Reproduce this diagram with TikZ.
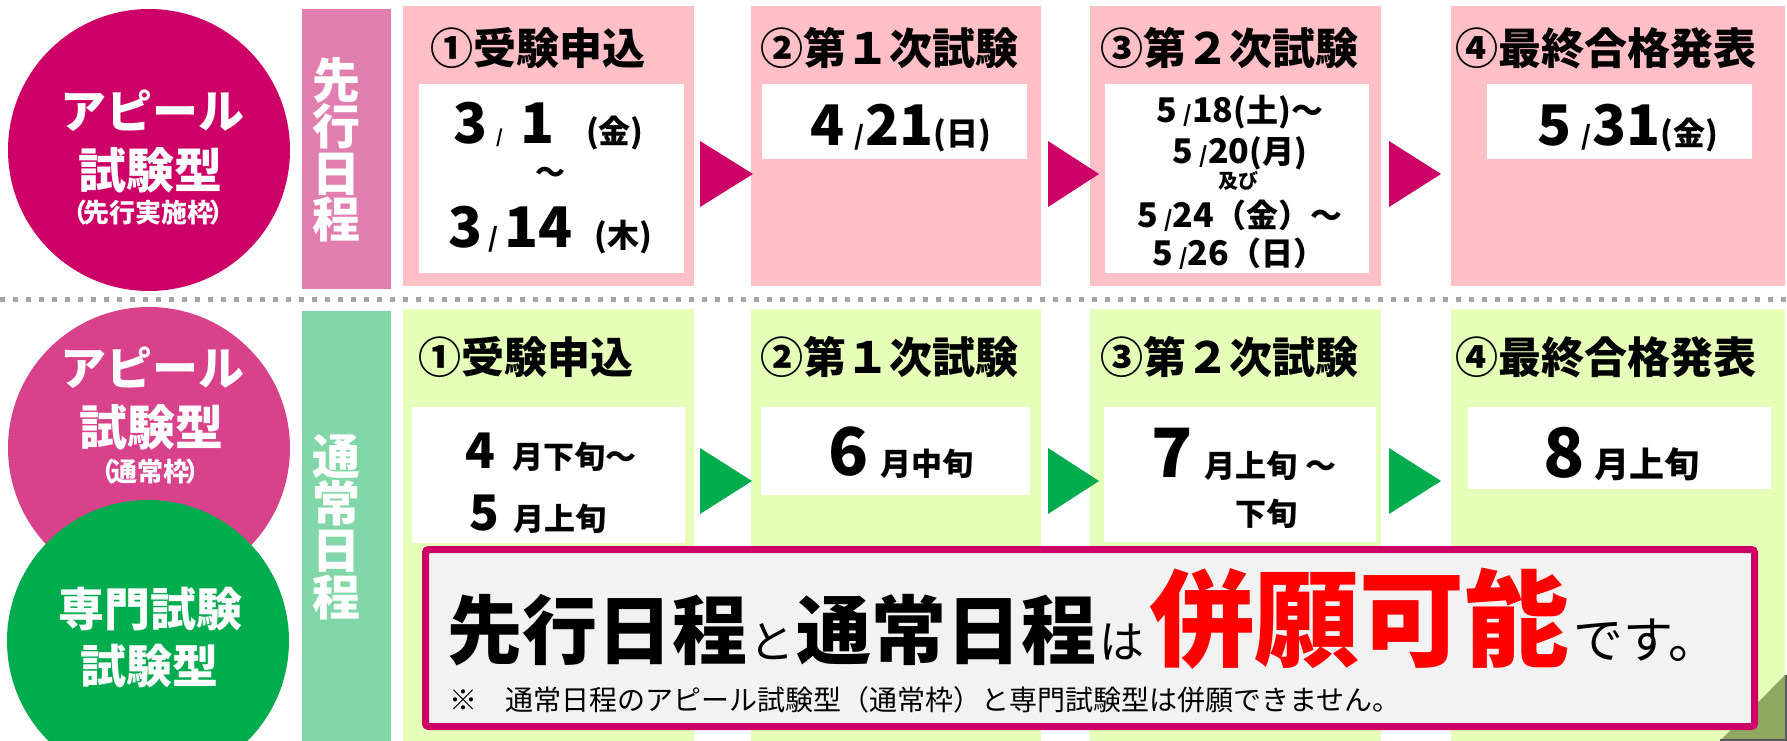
\documentclass[tikz,border=0pt]{standalone}
\usepackage{fontspec}
\newfontfamily\jp{Noto Sans CJK JP}
\newcommand\fs[1]{\fontsize{#1}{#1}\selectfont}
\newcommand\fsl[2]{\fontsize{#1}{#2}\selectfont}
\definecolor{mag}{HTML}{CC0066}
\definecolor{barpink}{HTML}{E07EB0}
\definecolor{panpink}{HTML}{FFBFC6}
\definecolor{magtwo}{HTML}{D7428A}
\definecolor{grn}{HTML}{00AC4E}
\definecolor{bargrn}{HTML}{82D7A8}
\definecolor{lime}{HTML}{E6FFB8}
\definecolor{boxgray}{HTML}{F2F2F2}
\definecolor{dashgray}{HTML}{A6A6A6}
\definecolor{olive}{HTML}{8FA862}
\newcommand\rbox[6]{\node[fill=#6, minimum width={#4-#2}, minimum height={#5-#3}, anchor=north west] (#1) at (#2,#3) {};}
\newcommand\tri[4]{\fill[#1] (#2,#3) -- (#2,#3+66) -- (#4,#3+33) -- cycle;}
\begin{document}
\begin{tikzpicture}[x=1pt,y=-1pt,
  every node/.style={inner sep=0pt, outer sep=0pt, font=\jp},
  circ/.style={circle, minimum size=282},
  wtxt/.style={text=white, font=\jp\bfseries},
  head/.style={font=\jp\bfseries\fs{43}},
  date/.style={anchor=base west, font=\jp\bfseries}]
\useasboundingbox (0,0) rectangle (1787,741);
\fill[white] (0,0) rectangle (1787,741);

% ---------- top row ----------
\node[circ, fill=mag] (c1) at (149,150) {};
\rbox{bar1}{302}{9}{391}{289}{barpink}
\rbox{tp1}{403}{6}{694}{286}{panpink}
\rbox{tp2}{751}{6}{1041}{286}{panpink}
\rbox{tp3}{1090}{6}{1381}{286}{panpink}
\rbox{tp4}{1451}{6}{1785}{286}{panpink}
\rbox{tw1}{419}{84}{684}{273}{white}
\rbox{tw2}{762}{84}{1027}{159}{white}
\rbox{tw3}{1105}{84}{1369}{273}{white}
\rbox{tw4}{1487}{84}{1752}{159}{white}
\tri{mag}{700}{141}{753}
\tri{mag}{1048}{141}{1099}
\tri{mag}{1389}{141}{1441}

\node[wtxt, font=\jp\bfseries\fs{46}] (c1a) at (152,111) {アピール};
\node[wtxt, font=\jp\bfseries\fs{48}] (c1b) at (150,170) {試験型};
\node[wtxt, font=\jp\bfseries\fs{26}] (c1c) at (148,213) {（\kern-4pt 先行実施枠\kern-4pt ）};
\node[text=white, align=center, font=\jp\bfseries\fsl{48}{46.5}] (bar1t) at (336,150) {先\\行\\日\\程};

\node[head] (th1) at (538,48.5) {①受験申込};
\node[head] (th2) at (889,48.5) {②第１次試験};
\node[head] (th3) at (1229,48.5) {③第２次試験};
\node[head] (th4) at (1606,48.5) {④最終合格発表};

\node[date] (d1a) at (453,143) {\fs{56}3\hspace{9pt}{\fs{18}/}\hspace{17pt}1\hspace{32pt}{\fs{32}(金)}};
\node[font=\jp\bfseries\fs{30}] (d1b) at (550,175) {～};
\node[date] (d1c) at (448,247) {\fs{56}3\hspace{6pt}{\fs{26}/}\hspace{6pt}14\hspace{22pt}{\fs{32}(木)}};
\node[date] (d2) at (810,145) {\fs{56}4\hspace{10pt}{\fs{26}/}\hspace{1pt}21{\fs{32}(日)}};
\node[anchor=base, font=\jp\bfseries] (d3a) at (1240,123) {\fs{34}5\hspace{6pt}{\fs{22}/}18{\fs{32}(土)～}};
\node[anchor=base, font=\jp\bfseries] (d3b) at (1240,163) {\fs{34}5\hspace{6pt}{\fs{22}/}20{\fs{32}(月)}};
\node[font=\jp\bfseries\fs{20}] (d3c) at (1238,181) {及び};
\node[anchor=base, font=\jp\bfseries] (d3d) at (1240,227) {\fs{34}5\hspace{6pt}{\fs{22}/}24{\fs{32}（金）～}};
\node[anchor=base, font=\jp\bfseries] (d3e) at (1239,265) {\fs{34}5\hspace{6pt}{\fs{22}/}26{\fs{32}（日）}};
\node[date] (d4) at (1537,145) {\fs{56}5\hspace{10pt}{\fs{26}/}\hspace{1pt}31{\fs{32}(金)}};

% ---------- separator ----------
\draw[dashgray, line width=5, dash pattern=on 5pt off 8pt] (0,299.5) -- (1787,299.5);

% ---------- bottom row ----------
\node[circ, fill=magtwo] (c2) at (149,448) {};
\node[circ, fill=grn] (c3) at (148,641) {};
\rbox{bar2}{302}{311}{391}{741}{bargrn}
\rbox{bp1}{403}{309}{694}{741}{lime}
\rbox{bp2}{751}{309}{1041}{741}{lime}
\rbox{bp3}{1090}{309}{1381}{741}{lime}
\rbox{bp4}{1451}{309}{1785}{741}{lime}
\rbox{bw1}{412}{407}{685}{543}{white}
\rbox{bw2}{761}{407}{1030}{495}{white}
\rbox{bw3}{1104}{407}{1376}{542}{white}
\rbox{bw4}{1468}{407}{1771}{489}{white}
\tri{grn}{700}{448}{752}
\tri{grn}{1048}{448}{1099}
\tri{grn}{1389}{448}{1441}

\node[wtxt, font=\jp\bfseries\fs{46}] (c2a) at (152,368) {アピール};
\node[wtxt, font=\jp\bfseries\fs{48}] (c2b) at (151,427) {試験型};
\node[wtxt, font=\jp\bfseries\fs{26}] (c2c) at (150,472) {（\kern-4pt 通常枠\kern-4pt ）};
\node[wtxt, font=\jp\bfseries\fs{46}] (c3a) at (150,609) {専門試験};
\node[wtxt, font=\jp\bfseries\fs{46}] (c3b) at (149,666) {試験型};
\node[text=white, align=center, font=\jp\bfseries\fsl{48}{47}] (bar2t) at (336,527.5) {通\\常\\日\\程};

\node[head] (bh1) at (526,357) {①受験申込};
\node[head] (bh2) at (889,357) {②第１次試験};
\node[head] (bh3) at (1229,357) {③第２次試験};
\node[head] (bh4) at (1606,357) {④最終合格発表};

\node[date] (e1a) at (465,468) {\fs{49}4\hspace{18pt}{\fs{31}月下旬～}};
\node[date] (e1b) at (469,530) {\fs{49}5\hspace{15pt}{\fs{31}月上旬}};
\node[date] (e2) at (828,475) {\fs{66}6\hspace{12pt}{\fs{31}月中旬}};
\node[date] (e3a) at (1151,477) {\fs{68}7\hspace{12pt}{\fs{31}月上旬\hspace{8pt}～}};
\node[date] (e3b) at (1235,525) {\fs{31}下旬};
\node[date] (e4) at (1543,477) {\fs{68}8\hspace{10pt}{\fs{35}月上旬}};

% folded corner
\fill[olive] (1720,741) -- (1785,675) -- (1785,741) -- cycle;
\draw[black!65, line width=2] (1786,675) -- (1786,740) -- (1720,740);

% ---------- message box ----------
\draw[mag, fill=boxgray, line width=7, rounded corners=3] (425.5,549.5) rectangle (1754.5,726.5);
\node[anchor=base west] (msg) at (447,658) {{\fs{75}\bfseries 先行日程}\hspace{2pt}{\fs{45}と}\hspace{2pt}{\fs{75}\bfseries 通常日程}\hspace{3pt}{\fs{45}は}\hspace{5pt}{\color{red}\fs{105}\bfseries 併願可能}\hspace{4pt}{\fs{50}です。}};
\node[anchor=base west, font=\jp\fs{28}] (note) at (449,710) {※　通常日程のアピール試験型（通常枠）と専門試験型は併願できません。};
\end{tikzpicture}
\end{document}
